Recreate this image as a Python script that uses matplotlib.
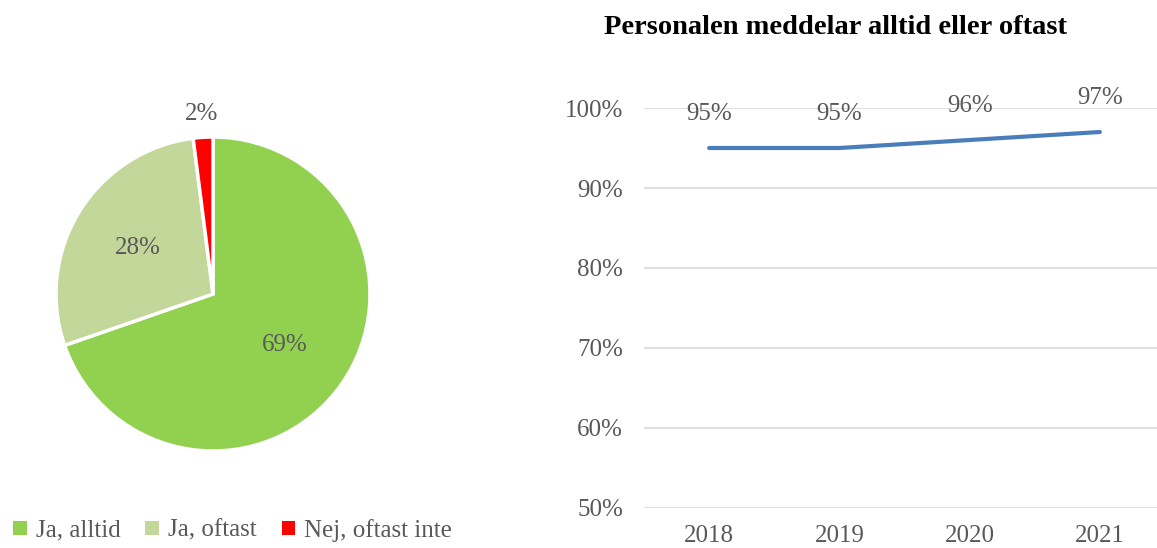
import numpy as np
import matplotlib.pyplot as plt

# Pie data
pie_labels = ['Ja, alltid', 'Ja, oftast', 'Nej, oftast inte']
pie_values = [69, 28, 2]
pie_colors = ['#92d050', '#c4d79b', '#ff0000']

# Line data
years = ['2018', '2019', '2020', '2021']
share = [0.95, 0.95, 0.96, 0.97]

title = 'Personalen meddelar alltid eller oftast'
txt_col = '#595959'
grid_col = '#d9d9d9'
line_col = '#4a7ebb'

plt.rcParams['font.family'] = ['Liberation Serif', 'DejaVu Serif']

W, H = 1157, 548
fig = plt.figure(figsize=(W / 100, H / 100), dpi=100)

# Pie
cx, cy, r = 213, 294, 157
ax1 = fig.add_axes([(cx - r) / W, (H - cy - r) / H, 2 * r / W, 2 * r / H])
wedges, _ = ax1.pie(pie_values, colors=pie_colors, startangle=90, counterclock=False,
                    radius=1, wedgeprops=dict(edgecolor='white', linewidth=2.5))
ax1.set_xlim(-1, 1)
ax1.set_ylim(-1, 1)
ax1.set_aspect('equal')
ax1.axis('off')
for w, v in zip(wedges, pie_values):
    mid = np.deg2rad((w.theta1 + w.theta2) / 2)
    d = 0.56 if v > 5 else 1.15
    ax1.text(d * np.cos(mid), d * np.sin(mid), f'{v}%', ha='center', va='center',
             fontsize=18, color=txt_col, clip_on=False)

# legend
leg = fig.legend(wedges, pie_labels, loc='lower left', bbox_to_anchor=(-0.008, -0.03),
                 ncol=3, frameon=False, fontsize=18, handlelength=0.55, handleheight=0.5,
                 handletextpad=0.35, columnspacing=1.0, labelcolor=txt_col)
for p in leg.get_patches():
    p.set_edgecolor('none')

# Line chart
ax2 = fig.add_axes([644 / W, (H - 508) / H, 521 / W, 400 / H])
x = np.arange(len(years))
ax2.plot(x, share, color=line_col, linewidth=3, solid_capstyle='round')
for xi, v in zip(x, share):
    ax2.annotate(f'{v * 100:.0f}%', (xi, v), xytext=(0, 24.5), textcoords='offset points',
                 ha='center', va='center', fontsize=18, color=txt_col, annotation_clip=False)
ax2.set_xlim(-0.5, 3.5)
ax2.set_ylim(0.5, 1.0)
ax2.set_yticks(np.arange(0.5, 1.01, 0.1))
ax2.set_yticklabels([f'{t * 100:.0f}%' for t in np.arange(0.5, 1.01, 0.1)])
ax2.set_xticks(x)
ax2.set_xticklabels(years)
ax2.tick_params(length=0, labelsize=18, labelcolor=txt_col)
ax2.tick_params(axis='x', pad=12)
ax2.tick_params(axis='y', pad=15)
ax2.grid(axis='y', color=grid_col, linewidth=1.2)
ax2.set_axisbelow(True)
for s in ax2.spines.values():
    s.set_visible(False)

fig.text(836 / W, 1 - 27 / H, title, ha='center', va='center', fontsize=20.5,
         fontweight='bold', color='black')

fig.savefig('out.png', dpi=100)
